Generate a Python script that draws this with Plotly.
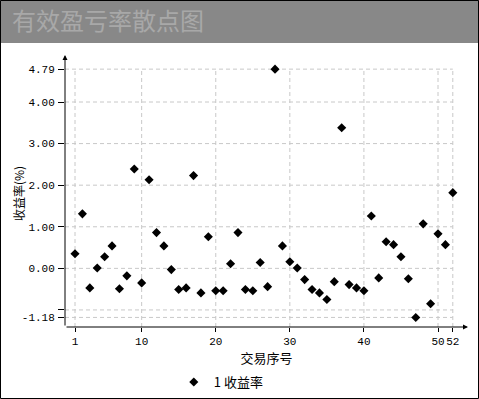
import plotly.graph_objects as go

trade_no = list(range(1, 53))
returns = [0.35, 1.31, -0.47, 0.01, 0.28, 0.54, -0.49, -0.18, 2.39, -0.35,
           2.13, 0.86, 0.54, -0.03, -0.51, -0.47, 2.23, -0.59, 0.76, -0.54,
           -0.54, 0.11, 0.86, -0.51, -0.54, 0.14, -0.44, 4.79, 0.54, 0.16,
           0.01, -0.27, -0.51, -0.59, -0.75, -0.32, 3.38, -0.39, -0.47, -0.54,
           1.26, -0.23, 0.64, 0.57, 0.28, -0.25, -1.18, 1.07, -0.85, 0.83,
           0.57, 1.82]
x_ticks = [1, 10, 20, 30, 40, 50, 52]
y_ticks = [-1.18, -1.0, 0.0, 1.0, 2.0, 3.0, 4.0, 4.79]
y_tick_text = ["-1.18", "", "0.00", "1.00", "2.00", "3.00", "4.00", "4.79"]
title_text = "有效盈亏率散点图"
series_name = "1 收益率"
x_title = "交易序号"
y_title = "收益率(%)"

x_range = [-0.35, 54.05]
y_range = [-1.41, 5.13]

W, H = 479, 399
ml, mr, mt, mb = 65, 11, 55, 72
pw, ph = W - ml - mr, H - mt - mb

def px2paper_x(p):
    return (p - ml) / pw

def px2paper_y(p):
    return (H - mb - p) / ph

cjk = "Noto Sans CJK SC"
mono = "Liberation Mono, DejaVu Sans Mono, monospace"
grid_col = "#c8c8c8"
dash = "4px,3px"

fig = go.Figure()
fig.add_trace(go.Scatter(
    x=trade_no, y=returns, mode="markers", name=series_name,
    marker=dict(symbol="diamond", size=7, color="black"),
))

shapes = []
shapes.append(dict(type="rect", xref="paper", yref="paper",
                   x0=px2paper_x(0), x1=px2paper_x(W), y0=px2paper_y(0), y1=px2paper_y(43),
                   fillcolor="#888888", line=dict(width=0), layer="below"))
for xv in x_ticks:
    shapes.append(dict(type="line", xref="x", yref="y", x0=xv, x1=xv,
                       y0=y_range[0], y1=max(y_ticks),
                       line=dict(color=grid_col, width=1, dash=dash), layer="below"))
for yv in y_ticks:
    shapes.append(dict(type="line", xref="x", yref="y", x0=x_range[0], x1=max(x_ticks),
                       y0=yv, y1=yv,
                       line=dict(color=grid_col, width=1, dash=dash), layer="below"))
shapes.append(dict(type="rect", xref="paper", yref="paper",
                   x0=px2paper_x(0.5), x1=px2paper_x(W - 0.5), y0=px2paper_y(0.5), y1=px2paper_y(H - 0.5),
                   line=dict(color="black", width=1), fillcolor="rgba(0,0,0,0)"))

annotations = [
    dict(x=x_range[0], y=y_range[1], ax=x_range[0], ay=y_range[0], xref="x", yref="y",
         axref="x", ayref="y", text="", showarrow=True, arrowhead=2, arrowsize=1,
         arrowwidth=1, arrowcolor="black"),
    dict(x=x_range[1], y=y_range[0], ax=x_range[0], ay=y_range[0], xref="x", yref="y",
         axref="x", ayref="y", text="", showarrow=True, arrowhead=2, arrowsize=1,
         arrowwidth=1, arrowcolor="black"),
    dict(text=y_title, xref="paper", yref="paper", x=px2paper_x(18), y=px2paper_y(194),
         xanchor="center", yanchor="middle", textangle=-90, showarrow=False,
         font=dict(family=cjk, size=12, color="black")),
]

fig.update_layout(
    width=W, height=H,
    margin=dict(l=ml, r=mr, t=mt, b=mb, pad=0, autoexpand=False),
    paper_bgcolor="white", plot_bgcolor="white",
    title=dict(text=title_text, xref="container", yref="container",
               x=12 / W, xanchor="left", y=1 - 22 / H, yanchor="middle",
               font=dict(family=cjk, size=24, color="#a8a8a8")),
    shapes=shapes, annotations=annotations,
    showlegend=True,
    legend=dict(orientation="h", xref="container", yref="container",
                x=0.462, xanchor="center", y=1 - 382 / H, yanchor="middle",
                font=dict(family=cjk, size=13, color="black"),
                bgcolor="rgba(0,0,0,0)", itemwidth=30),
    xaxis=dict(range=x_range, tickvals=x_ticks, showgrid=False, zeroline=False,
               showline=False, ticks="outside", ticklen=4, tickcolor="black", tickangle=0,
               automargin=False,
               tickfont=dict(family=mono, size=11, color="black"),
               title=dict(text=x_title, font=dict(family=cjk, size=13, color="black"), standoff=2)),
    yaxis=dict(range=y_range, tickvals=y_ticks, ticktext=y_tick_text, showgrid=False,
               zeroline=False, showline=False, ticks="outside", ticklen=6, tickcolor="black",
               ticklabelstandoff=1, automargin=False,
               tickfont=dict(family=mono, size=11, color="black")),
)

fig.write_html("out.html")
